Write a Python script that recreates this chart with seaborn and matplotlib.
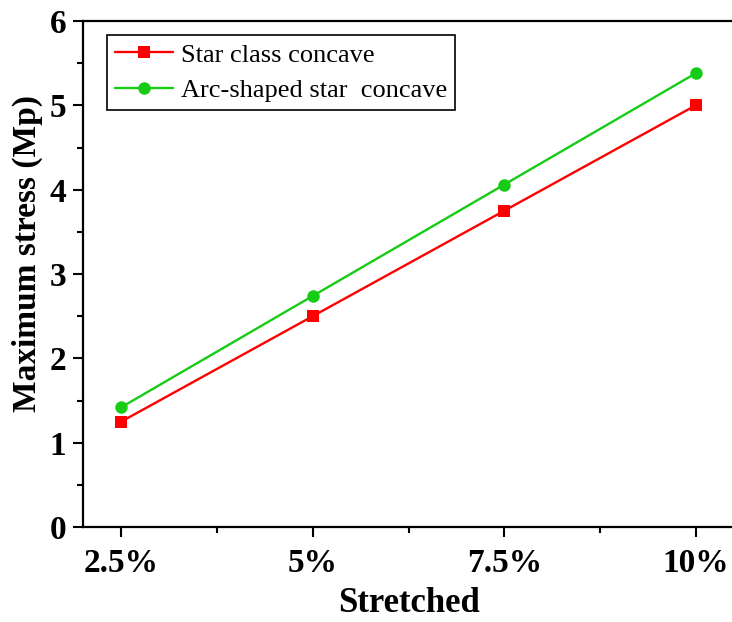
import matplotlib
matplotlib.use("Agg")
import matplotlib.pyplot as plt
import seaborn as sns
import pandas as pd
from matplotlib.ticker import MultipleLocator, FixedLocator

categories = ["2.5%", "5%", "7.5%", "10%"]
star_class = [1.25, 2.50, 3.75, 5.00]
arc_star = [1.42, 2.74, 4.06, 5.38]
series_names = ["Star class concave", "Arc-shaped star  concave"]

sns.set_theme(style="ticks")
plt.rcParams["font.family"] = ["Liberation Serif", "DejaVu Serif"]
plt.rcParams["text.color"] = "black"
plt.rcParams["axes.labelcolor"] = "black"
plt.rcParams["xtick.color"] = "black"
plt.rcParams["ytick.color"] = "black"

df = pd.DataFrame({
    "pos": list(range(len(categories))) * 2,
    "value": star_class + arc_star,
    "series": [series_names[0]] * 4 + [series_names[1]] * 4,
})

fig = plt.figure(figsize=(7.32, 6.22), dpi=100)
ax = fig.add_axes([83/732, 1-527/622, (734-83)/732, (527-21)/622])

sns.lineplot(data=df, x="pos", y="value", hue="series", style="series",
             palette=["#FF0000", "#17CC17"], markers=["s", "o"], dashes=False,
             markersize=9, markeredgewidth=0, linewidth=1.7, ax=ax)

ax.set_xlim(-0.2, 3.2)
ax.set_ylim(0, 6)
ax.xaxis.set_major_locator(FixedLocator(range(len(categories))))
ax.set_xticklabels(categories)
ax.xaxis.set_minor_locator(FixedLocator([0.5, 1.5, 2.5]))
ax.yaxis.set_major_locator(MultipleLocator(1))
ax.yaxis.set_minor_locator(MultipleLocator(0.5))

for sp in ax.spines.values():
    sp.set_linewidth(1.6)
    sp.set_color("black")
ax.tick_params(which="major", direction="out", length=7, width=1.5, labelsize=24, pad=5)
ax.tick_params(which="minor", direction="out", length=4, width=1.5)
ax.tick_params(axis="x", which="major", pad=8)
for lab in ax.get_xticklabels() + ax.get_yticklabels():
    lab.set_fontweight("bold")

ax.set_xlabel("Stretched", fontsize=25, fontweight="bold", labelpad=6)
ax.set_ylabel("Maximum stress (Mp)", fontsize=24, fontweight="bold")
ax.yaxis.set_label_coords(-0.061, 0.541)

leg = ax.legend(loc="upper left", bbox_to_anchor=(0.037, 0.972), borderaxespad=0,
                fontsize=19, frameon=True, fancybox=False, edgecolor="black",
                handlelength=2.2, borderpad=0.3, labelspacing=0.45, handletextpad=0.3)
leg.get_frame().set_linewidth(1.2)
leg.get_frame().set_alpha(1)

fig.savefig("out.png", dpi=100)
